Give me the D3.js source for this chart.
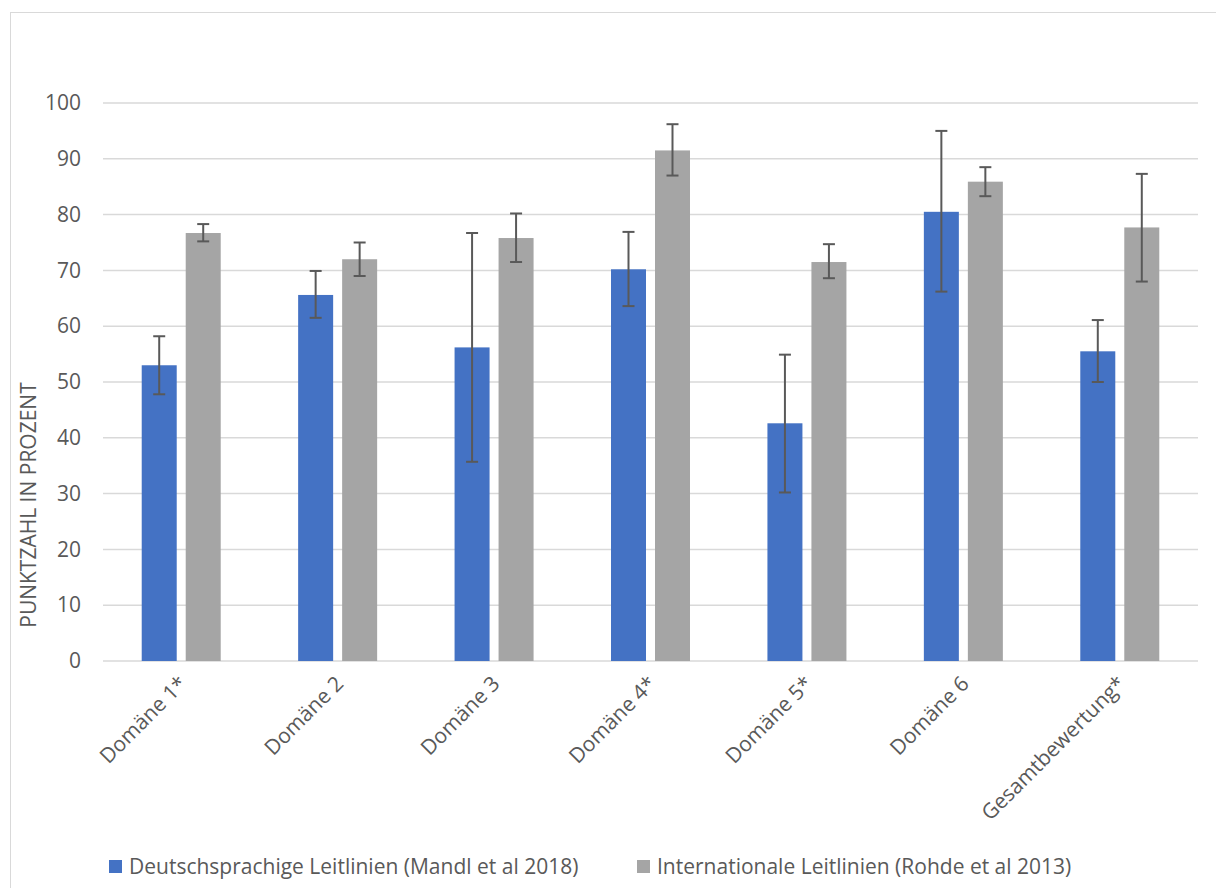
<!DOCTYPE html>
<html>
<head>
<meta charset="utf-8">
<script src="https://cdn.jsdelivr.net/npm/d3@7"></script>
<style>
  html, body { margin: 0; padding: 0; background: #fff; }
  svg { display: block; font-family: "Open Sans", "Noto Sans", sans-serif; }
</style>
</head>
<body>
<svg id="chart" width="1216" height="888"></svg>
<script>
// Categories and series (AGREE domain scores in percent)
const categories = ["Domäne 1*", "Domäne 2", "Domäne 3", "Domäne 4*", "Domäne 5*", "Domäne 6", "Gesamtbewertung*"];
const seriesNames = ["Deutschsprachige Leitlinien (Mandl et al 2018)", "Internationale Leitlinien (Rohde et al 2013)"];
const seriesColors = ["#4472C4", "#A5A5A5"];

const germanValues = [53.0, 65.6, 56.2, 70.2, 42.6, 80.5, 55.5];
const germanLow    = [47.8, 61.5, 35.7, 63.6, 30.2, 66.2, 50.0];
const germanHigh   = [58.2, 69.9, 76.7, 76.9, 54.9, 95.0, 61.1];

const intlValues = [76.7, 72.0, 75.8, 91.5, 71.5, 85.9, 77.7];
const intlLow    = [75.2, 69.0, 71.5, 87.0, 68.6, 83.3, 68.0];
const intlHigh   = [78.3, 75.0, 80.2, 96.2, 74.7, 88.5, 87.3];

const yTicks = [0, 10, 20, 30, 40, 50, 60, 70, 80, 90, 100];
const yTitle = "PUNKTZAHL IN PROZENT";

const svg = d3.select("#chart");
const textColor = "#595959";
const fontSize = "21px";

// outer chart frame
svg.append("rect")
  .attr("x", 10.5).attr("y", 12.5)
  .attr("width", 1220).attr("height", 890)
  .attr("fill", "none").attr("stroke", "#d9d9d9").attr("stroke-width", 1);

const plot = { left: 103, right: 1198, top: 103, bottom: 661 };

const x0 = d3.scaleBand().domain(categories).range([plot.left, plot.right]).padding(0);
const y = d3.scaleLinear().domain([0, 100]).range([plot.bottom, plot.top]);

// grid lines
svg.append("g").selectAll("line").data(yTicks).join("line")
  .attr("x1", plot.left).attr("x2", plot.right)
  .attr("y1", d => y(d)).attr("y2", d => y(d))
  .attr("stroke", "#d9d9d9").attr("stroke-width", 1.5);

// y axis labels
const yAxis = d3.axisLeft(y).tickValues(yTicks).tickSize(0).tickPadding(0);
const yg = svg.append("g").attr("transform", `translate(${plot.left - 22},0)`).call(yAxis);
yg.select(".domain").remove();
yg.selectAll("text")
  .attr("fill", textColor)
  .style("font-size", fontSize)
  .style("font-family", "'Open Sans', sans-serif");

// y axis title
svg.append("text")
  .attr("transform", `translate(36,${505}) rotate(-90)`)
  .attr("text-anchor", "middle")
  .attr("fill", textColor)
  .style("font-size", fontSize)
  .text(yTitle);

// grouped bars
const rows = categories.map((c, i) => ({
  cat: c,
  bars: [
    { s: 0, v: germanValues[i], lo: germanLow[i], hi: germanHigh[i] },
    { s: 1, v: intlValues[i], lo: intlLow[i], hi: intlHigh[i] }
  ]
}));

const bw = x0.bandwidth();
const x1 = d3.scaleBand().domain([0, 1])
  .range([bw / 2 - 39.5, bw / 2 + 39.5])
  .paddingInner(0.2045).paddingOuter(0);

const groups = svg.append("g").selectAll("g").data(rows).join("g")
  .attr("transform", d => `translate(${x0(d.cat)},0)`);

groups.selectAll("rect").data(d => d.bars).join("rect")
  .attr("x", d => x1(d.s))
  .attr("width", x1.bandwidth())
  .attr("y", d => y(d.v))
  .attr("height", d => y(0) - y(d.v))
  .attr("fill", d => seriesColors[d.s]);

// error bars
const capHalf = 6;
const eb = groups.selectAll("g.err").data(d => d.bars).join("g").attr("class", "err")
  .attr("stroke", "#595959").attr("stroke-width", 2);
eb.append("line")
  .attr("x1", d => x1(d.s) + x1.bandwidth() / 2).attr("x2", d => x1(d.s) + x1.bandwidth() / 2)
  .attr("y1", d => y(d.hi)).attr("y2", d => y(d.lo));
eb.append("line")
  .attr("x1", d => x1(d.s) + x1.bandwidth() / 2 - capHalf).attr("x2", d => x1(d.s) + x1.bandwidth() / 2 + capHalf)
  .attr("y1", d => y(d.hi)).attr("y2", d => y(d.hi));
eb.append("line")
  .attr("x1", d => x1(d.s) + x1.bandwidth() / 2 - capHalf).attr("x2", d => x1(d.s) + x1.bandwidth() / 2 + capHalf)
  .attr("y1", d => y(d.lo)).attr("y2", d => y(d.lo));

// category labels, rotated
svg.append("g").selectAll("text").data(categories).join("text")
  .attr("transform", d => `translate(${x0(d) + bw / 2 + 7},${plot.bottom + 24}) rotate(-45)`)
  .attr("text-anchor", "end")
  .attr("fill", textColor)
  .style("font-size", fontSize)
  .text(d => d);

// legend
const legendX = [109, 637];
const legend = svg.append("g").selectAll("g").data(seriesNames).join("g")
  .attr("transform", (d, i) => `translate(${legendX[i]},860)`);
legend.append("rect").attr("width", 13).attr("height", 13)
  .attr("fill", (d, i) => seriesColors[i]);
legend.append("text").attr("x", 20).attr("y", 14)
  .attr("fill", textColor)
  .style("font-size", fontSize)
  .text(d => d);
</script>
</body>
</html>
